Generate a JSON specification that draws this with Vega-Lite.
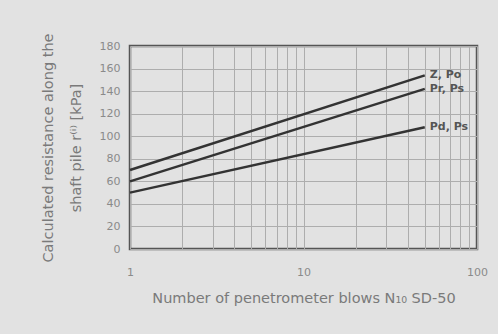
{
  "$schema": "https://vega.github.io/schema/vega-lite/v6.json",
  "width": 347,
  "height": 203,
  "autosize": "none",
  "padding": {"left": 130, "top": 46, "right": 21, "bottom": 85},
  "background": "#e2e2e2",
  "config": {
    "view": {"stroke": "#555555", "strokeWidth": 2.5},
    "font": "DejaVu Sans",
    "axis": {"labelColor": "#8a8a8a", "titleColor": "#7a7a7a", "labelFont": "DejaVu Sans", "titleFont": "DejaVu Sans", "titleFontWeight": "normal", "gridColor": "#adadad", "gridWidth": 1, "domain": false, "ticks": false}
  },
  "data": {"values": [
    {"n": 1, "r": 70, "s": "Z, Po"},
    {"n": 50, "r": 154, "s": "Z, Po"},
    {"n": 1, "r": 60, "s": "Pr, Ps"},
    {"n": 50, "r": 142, "s": "Pr, Ps"},
    {"n": 1, "r": 50, "s": "Pd, Ps"},
    {"n": 50, "r": 108, "s": "Pd, Ps"}
  ]},
  "encoding": {
    "x": {"field": "n", "type": "quantitative",
      "scale": {"type": "log", "domain": [1, 100], "nice": false},
      "axis": {"values": [1,2,3,4,5,6,7,8,9,10,20,30,40,50,60,70,80,90,100],
        "labelExpr": "datum.value == 1 || datum.value == 10 || datum.value == 100 ? datum.label : ''",
        "labelFontSize": 11, "labelPadding": 17, "labelFlush": false,
        "title": "Number of penetrometer blows N₁₀ SD-50", "titleFontSize": 14.5, "titlePadding": 14}},
    "y": {"field": "r", "type": "quantitative",
      "scale": {"domain": [0, 180], "nice": false},
      "axis": {"values": [0,20,40,60,80,100,120,140,160,180], "labelFontSize": 11, "labelPadding": 10,
        "title": ["Calculated resistance along the", "shaft pile r⁽ⁱ⁾ [kPa]"], "titleFontSize": 14.5, "titleLineHeight": 28, "titlePadding": 16}},
    "detail": {"field": "s"}
  },
  "layer": [
    {"mark": {"type": "line", "color": "#333333", "strokeWidth": 2.5}},
    {"transform": [{"filter": "datum.n == 50"}],
     "mark": {"type": "text", "align": "left", "dx": 5, "fontSize": 11, "color": "#555555", "fontWeight": "bold"},
     "encoding": {"text": {"field": "s"}}}
  ]
}
